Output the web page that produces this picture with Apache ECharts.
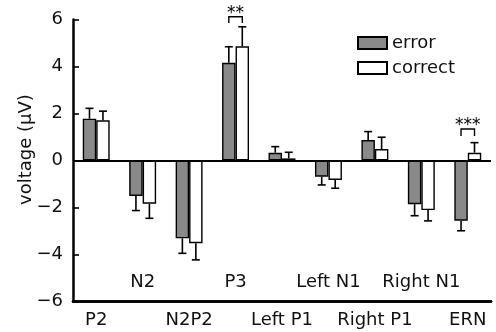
<!DOCTYPE html>
<html><head><meta charset="utf-8">
<script src="https://cdn.jsdelivr.net/npm/echarts@6/dist/echarts.min.js"></script>
<style>html,body{margin:0;padding:0;background:#fff}#c{width:496px;height:332px}</style>
</head><body><div id="c"></div>
<script>
const categories = ['P2','N2','N2P2','P3','Left P1','Left N1','Right P1','Right N1','ERN'];
const errorVals   = [1.78, -1.51, -3.31, 4.16, 0.33, -0.69, 0.87, -1.86, -2.56];
const errorBarEnd = [2.22, -2.13, -3.95, 4.84, 0.59, -1.04, 1.23, -2.35, -2.99];
const correctVals   = [1.71, -1.84, -3.52, 4.86, 0.09, -0.83, 0.49, -2.11, 0.33];
const correctBarEnd = [2.10, -2.46, -4.23, 5.69, 0.35, -1.18, 0.99, -2.57, 0.76];
const yTicks = [-6, -4, -2, 0, 2, 4, 6];
// significance: [category index, leg bottom, bracket top, label bottom, label]
const sigMarks = [[3, 5.85, 6.12, 6.15, '**'], [8, 1.04, 1.34, 1.37, '***']];

const BW = 0.29;
const FONT = 'DejaVu Sans, sans-serif';
const FS = 18;

function errRender(side) {
  return function (params, api) {
    const i = api.value(0);
    const b = api.coord([i, api.value(1)]);
    const e = api.coord([i, api.value(2)]);
    const w = api.size([1, 0])[0];
    const x = b[0] + side * w * BW / 2;
    return {
      type: 'group',
      children: [
        {type: 'line', shape: {x1: x, y1: b[1], x2: x, y2: e[1]}, style: {stroke: '#000', lineWidth: 1.6}},
        {type: 'line', shape: {x1: x - 4, y1: e[1], x2: x + 4, y2: e[1]}, style: {stroke: '#000', lineWidth: 1.6}}
      ]
    };
  };
}

function sigRender(params, api) {
  const i = api.value(0);
  const lo = api.coord([i, api.value(1)]);
  const hi = api.coord([i, api.value(2)]);
  const tp = api.coord([i, api.value(3)]);
  const w = api.size([1, 0])[0];
  const xl = lo[0] - w * BW / 2, xr = lo[0] + w * BW / 2;
  return {
    type: 'group',
    children: [
      {type: 'polyline', shape: {points: [[xl, lo[1]], [xl, hi[1]], [xr, hi[1]], [xr, lo[1]]]},
       style: {stroke: '#000', lineWidth: 1.4, fill: null}},
      {type: 'text', x: lo[0], y: tp[1] + 6,
       style: {text: sigMarks[params.dataIndex][4], fill: '#000', font: '17px ' + FONT,
               textAlign: 'center', textVerticalAlign: 'bottom'}}
    ]
  };
}

const chart = echarts.init(document.getElementById('c'));
chart.setOption({
  animation: false,
  textStyle: {fontFamily: FONT},
  grid: {left: 73, right: 5, top: 19.5, bottom: 30.5},
  legend: {
    orient: 'vertical', left: 352, top: 29, itemWidth: 29, itemHeight: 12, itemGap: 7,
    icon: 'rect',
    textStyle: {fontSize: FS, color: '#111', fontFamily: FONT},
    data: ['error', 'correct']
  },
  xAxis: [
    {
      type: 'category', data: categories, position: 'bottom', offset: 0,
      axisLine: {onZero: false, lineStyle: {color: '#000', width: 2.5}},
      axisTick: {alignWithLabel: true, length: 7, interval: (i) => i % 2 === 0, lineStyle: {color: '#000', width: 1.6}},
      axisLabel: {interval: 0, margin: 10, color: '#111', fontSize: FS, fontFamily: FONT,
                  formatter: (v, i) => (i % 2 === 0 ? v : '')}
    },
    {
      type: 'category', data: categories, position: 'bottom', offset: 0,
      axisLine: {onZero: false, lineStyle: {color: '#000', width: 2.5}},
      axisTick: {inside: true, alignWithLabel: true, length: 7, interval: (i) => i % 2 === 1, lineStyle: {color: '#000', width: 1.6}},
      axisLabel: {inside: true, interval: 0, margin: 10, color: '#111', fontSize: FS, fontFamily: FONT,
                  formatter: (v, i) => (i % 2 === 1 ? v : '')}
    }
  ],
  yAxis: {
    type: 'value', min: -6, max: 6, interval: 2,
    name: 'voltage (\u03bcV)', nameLocation: 'middle', nameGap: 38, nameRotate: 90,
    nameMoveOverlap: false,
    nameTextStyle: {fontSize: FS, color: '#111', fontFamily: FONT, padding: [0, 0, 0, 22]},
    axisLine: {show: true, lineStyle: {color: '#000', width: 2.5}},
    axisTick: {show: true, inside: true, length: 6, lineStyle: {color: '#000', width: 1.6}},
    axisLabel: {margin: 10, color: '#111', fontSize: FS, fontFamily: FONT,
                formatter: (v) => (yTicks.indexOf(v) >= 0 ? String(v).replace('-', '\u2212') : '')},
    splitLine: {show: false}
  },
  series: [
    {
      name: 'error', type: 'bar', data: errorVals, barWidth: (BW * 100) + '%', barGap: '0%',
      itemStyle: {color: '#898989', borderColor: '#000', borderWidth: 1.4},
      markLine: {silent: true, symbol: 'none', label: {show: false},
                 lineStyle: {color: '#000', width: 2, type: 'solid'}, data: [{yAxis: 0}]}
    },
    {
      name: 'correct', type: 'bar', data: correctVals, barWidth: (BW * 100) + '%', barGap: '0%',
      itemStyle: {color: '#fff', borderColor: '#000', borderWidth: 1.4}
    },
    {
      type: 'custom', renderItem: errRender(-1), z: 1,
      data: categories.map((c, i) => [i, errorVals[i], errorBarEnd[i]])
    },
    {
      type: 'custom', renderItem: errRender(1), z: 1,
      data: categories.map((c, i) => [i, correctVals[i], correctBarEnd[i]])
    },
    {
      type: 'custom', renderItem: sigRender, clip: false,
      data: sigMarks.map(s => [s[0], s[1], s[2], s[3]])
    }
  ]
});
</script></body></html>
